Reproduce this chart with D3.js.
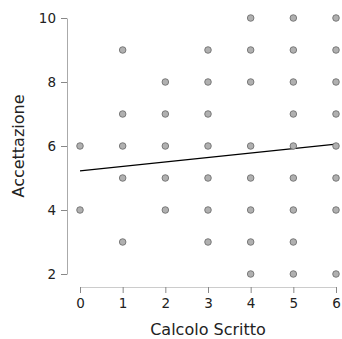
<!DOCTYPE html>
<html>
<head>
<meta charset="utf-8">
<script src="https://cdn.jsdelivr.net/npm/d3@7"></script>
<style>
body { margin: 0; background: #fff; }
text { font-family: "DejaVu Sans", sans-serif; fill: #222; }
.axis text { font-size: 13.5px; }
.title { font-size: 16px; }
</style>
</head>
<body>
<svg id="chart" width="342" height="339"></svg>
<script>
// dati: valori di Accettazione per ogni valore di Calcolo Scritto
var xValues = [0, 1, 2, 3, 4, 5, 6];
var yByX = [
	[6, 4],
	[9, 7, 6, 5, 3],
	[8, 7, 6, 5, 4],
	[9, 8, 7, 6, 5, 4, 3],
	[10, 9, 8, 6, 5, 4, 3, 2],
	[10, 9, 8, 7, 6, 5, 4, 3, 2],
	[10, 9, 8, 7, 6, 5, 4, 2]
];
var fitLine = [{x: 0, y: 5.22}, {x: 6, y: 6.06}];
var xTicks = [0, 1, 2, 3, 4, 5, 6];
var yTicks = [2, 4, 6, 8, 10];

var points = [];
xValues.forEach(function(x, i) {
	yByX[i].forEach(function(y) { points.push({x: x, y: y}); });
});

var svg = d3.select('#chart');
var x = d3.scaleLinear().domain([0, 6]).range([80, 336]);
var y = d3.scaleLinear().domain([2, 10]).range([274, 18]);
var fmt = d3.format('d');

// asse y
var gy = svg.append('g')
	.attr('class', 'axis')
	.attr('transform', 'translate(67,0)')
	.call(d3.axisLeft(y).tickValues(yTicks).tickFormat(fmt).tickSize(6).tickSizeOuter(0).tickPadding(5));
gy.select('.domain').attr('stroke', '#aaa');
gy.selectAll('.tick line').attr('stroke', '#888');

// asse x
var gx = svg.append('g')
	.attr('class', 'axis')
	.attr('transform', 'translate(0,287)')
	.call(d3.axisBottom(x).tickValues(xTicks).tickFormat(fmt).tickSize(6).tickSizeOuter(0).tickPadding(5));
gx.select('.domain').attr('stroke', '#ccc');
gx.selectAll('.tick line').attr('stroke', '#888');

svg.selectAll('.axis text').style('fill', '#222');

// retta di regressione
svg.append('line')
	.attr('x1', x(fitLine[0].x)).attr('y1', y(fitLine[0].y))
	.attr('x2', x(fitLine[1].x)).attr('y2', y(fitLine[1].y))
	.attr('stroke', '#000')
	.attr('stroke-width', 1.3);

// punti
svg.selectAll('circle.pt')
	.data(points)
	.enter()
	.append('circle')
	.attr('class', 'pt')
	.attr('cx', function(d) { return x(d.x); })
	.attr('cy', function(d) { return y(d.y); })
	.attr('r', 3.3)
	.attr('fill', '#b0b0b0')
	.attr('stroke', '#666')
	.attr('stroke-width', 0.8);

// titoli
svg.append('text')
	.attr('class', 'title')
	.attr('x', 208)
	.attr('y', 335)
	.attr('text-anchor', 'middle')
	.text('Calcolo Scritto');

svg.append('text')
	.attr('class', 'title')
	.attr('transform', 'translate(24,146) rotate(-90)')
	.attr('text-anchor', 'middle')
	.text('Accettazione');
</script>
</body>
</html>
